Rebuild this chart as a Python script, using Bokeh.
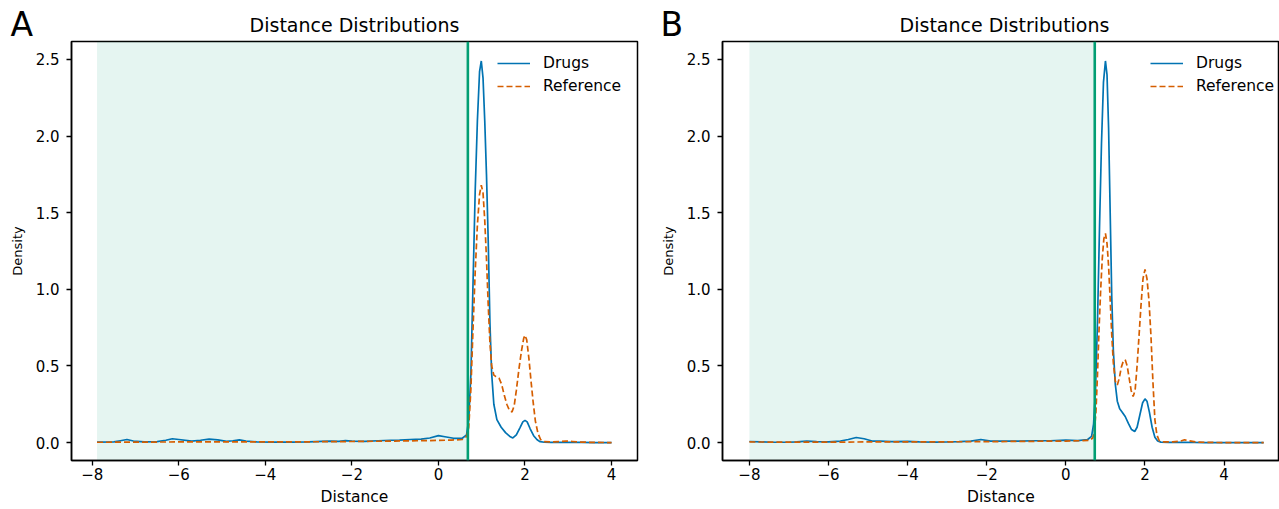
from bokeh.plotting import figure
from bokeh.models import (Range1d, FixedTicker, CustomJSTickFormatter, BoxAnnotation,
                          Span, Legend, LegendItem, Label)
from bokeh.layouts import row, column
from bokeh.embed import file_html
from bokeh.resources import INLINE

# ---------------- data ----------------
# Panel A
drugs_a_x = [-7.89, -7.5, -7.35, -7.2, -7.05, -6.8, -6.5, -6.3, -6.15, -6.0, -5.7, -5.5, -5.3, -5.1,
             -4.9, -4.75, -4.6, -4.45, -4.2, -3.8, -3.4, -3.0, -2.7, -2.5, -2.3, -2.15, -2.0, -1.7,
             -1.4, -1.1, -0.9, -0.65, -0.4, -0.2, 0.0, 0.15, 0.35, 0.55, 0.65, 0.70, 0.75, 0.80,
             0.85, 0.90, 0.95, 0.99, 1.03, 1.07, 1.11, 1.15, 1.19, 1.23, 1.28, 1.35, 1.45, 1.55,
             1.65, 1.72, 1.80, 1.88, 1.95, 2.0, 2.05, 2.12, 2.2, 2.28, 2.35, 2.45, 2.6, 2.8, 3.0,
             3.3, 3.6, 4.0]
drugs_a_y = [0.003, 0.004, 0.012, 0.02, 0.01, 0.005, 0.006, 0.015, 0.025, 0.02, 0.01, 0.015, 0.022,
             0.018, 0.008, 0.012, 0.018, 0.01, 0.005, 0.003, 0.003, 0.005, 0.008, 0.01, 0.008,
             0.013, 0.01, 0.008, 0.012, 0.015, 0.016, 0.02, 0.022, 0.03, 0.045, 0.038, 0.028,
             0.028, 0.05, 0.15, 0.45, 1.05, 1.65, 2.1, 2.42, 2.49, 2.38, 2.1, 1.75, 1.32, 0.78,
             0.45, 0.25, 0.15, 0.1, 0.065, 0.04, 0.03, 0.05, 0.095, 0.135, 0.145, 0.135, 0.09,
             0.045, 0.018, 0.006, 0.002, 0.001, 0.001, 0.002, 0.001, 0.0, 0.0]

ref_a_x = [-7.89, -7.0, -6.0, -5.0, -4.0, -3.0, -2.0, -1.0, -0.5, 0.0, 0.3, 0.55, 0.65, 0.70,
           0.75, 0.80, 0.85, 0.90, 0.95, 0.99, 1.03, 1.07, 1.11, 1.15, 1.19, 1.23, 1.28, 1.33,
           1.40, 1.46, 1.52, 1.58, 1.64, 1.70, 1.75, 1.80, 1.86, 1.92, 1.97, 2.0, 2.04, 2.09,
           2.14, 2.19, 2.24, 2.30, 2.36, 2.45, 2.6, 2.8, 2.95, 3.1, 3.3, 3.6, 4.0]
ref_a_y = [0.002, 0.003, 0.004, 0.004, 0.004, 0.005, 0.007, 0.01, 0.012, 0.014, 0.016, 0.02,
           0.04, 0.1, 0.35, 0.75, 1.12, 1.42, 1.62, 1.68, 1.63, 1.45, 1.2, 0.9, 0.65, 0.5,
           0.44, 0.43, 0.42, 0.38, 0.31, 0.25, 0.21, 0.2, 0.24, 0.34, 0.48, 0.6, 0.68, 0.70,
           0.67, 0.55, 0.4, 0.26, 0.14, 0.06, 0.02, 0.006, 0.004, 0.006, 0.01, 0.007, 0.003,
           0.001, 0.0]

# Panel B
drugs_b_x = [-8.0, -7.7, -7.4, -7.0, -6.8, -6.55, -6.3, -6.0, -5.7, -5.5, -5.3, -5.1, -4.9, -4.7,
             -4.4, -4.0, -3.7, -3.3, -3.0, -2.7, -2.4, -2.15, -1.9, -1.6, -1.2, -0.8, -0.4, 0.0,
             0.3, 0.55, 0.65, 0.70, 0.75, 0.80, 0.85, 0.90, 0.95, 1.00, 1.04, 1.08, 1.12, 1.16,
             1.20, 1.25, 1.30, 1.36, 1.42, 1.50, 1.58, 1.66, 1.74, 1.80, 1.87, 1.94, 2.0, 2.05,
             2.11, 2.18, 2.25, 2.32, 2.4, 2.6, 3.0, 3.5, 4.0, 4.5, 5.0]
drugs_b_y = [0.007, 0.004, 0.002, 0.002, 0.005, 0.009, 0.006, 0.005, 0.01, 0.02, 0.033, 0.025,
             0.01, 0.01, 0.006, 0.008, 0.004, 0.003, 0.004, 0.006, 0.01, 0.02, 0.01, 0.009, 0.01,
             0.012, 0.012, 0.016, 0.013, 0.02, 0.04, 0.12, 0.35, 0.8, 1.4, 1.95, 2.35, 2.49, 2.4,
             2.05, 1.5, 0.95, 0.6, 0.38, 0.27, 0.22, 0.2, 0.17, 0.125, 0.085, 0.072, 0.1, 0.18,
             0.26, 0.285, 0.27, 0.2, 0.1, 0.035, 0.01, 0.003, 0.001, 0.002, 0.0, 0.0, 0.0, 0.0]

ref_b_x = [-8.0, -7.0, -6.0, -5.0, -4.0, -3.0, -2.0, -1.0, 0.0, 0.4, 0.6, 0.68, 0.72, 0.76, 0.80,
           0.84, 0.88, 0.92, 0.96, 1.00, 1.04, 1.08, 1.12, 1.16, 1.20, 1.25, 1.30, 1.35, 1.40,
           1.45, 1.50, 1.55, 1.60, 1.65, 1.70, 1.75, 1.80, 1.85, 1.90, 1.95, 2.0, 2.05, 2.10,
           2.15, 2.20, 2.25, 2.30, 2.36, 2.45, 2.7, 2.9, 3.0, 3.1, 3.3, 3.6, 4.0, 4.5, 5.0]
ref_b_y = [0.004, 0.003, 0.003, 0.004, 0.004, 0.005, 0.006, 0.008, 0.01, 0.012, 0.015, 0.03,
           0.07, 0.2, 0.45, 0.75, 1.0, 1.2, 1.33, 1.365, 1.3, 1.15, 0.93, 0.7, 0.52, 0.4, 0.375,
           0.42, 0.49, 0.53, 0.54, 0.5, 0.42, 0.34, 0.3, 0.34, 0.5, 0.7, 0.9, 1.07, 1.13, 1.07,
           0.93, 0.7, 0.4, 0.15, 0.05, 0.012, 0.004, 0.004, 0.01, 0.018, 0.012, 0.004, 0.001,
           0.0, 0.0, 0.0]

# shaded region / threshold
shade_start_a, threshold_a = -7.89, 0.68
shade_start_b, threshold_b = -8.0, 0.73

x_ticks = [-8, -6, -4, -2, 0, 2, 4]
y_ticks = [0.0, 0.5, 1.0, 1.5, 2.0, 2.5]
series_labels = ["Drugs", "Reference"]
panel_title = "Distance Distributions"
panel_letters = ["A", "B"]

# ---------------- styling ----------------
FONT = "DejaVu Sans"
BLUE = "#0173b2"
ORANGE = "#d55e00"
GREEN = "#029e73"
STRIP_H = 40          # header strip holding the panel letter and the title
MAIN_H = 468          # main plot canvas
TOP = 1
BOTTOM = 48
FRAME_H = MAIN_H - TOP - BOTTOM   # 419
LEG_H = 53


def make_header(letter, width, title_center):
    s = figure(width=width, height=STRIP_H, x_range=Range1d(0, width),
               y_range=Range1d(0, STRIP_H), output_backend="svg", toolbar_location=None,
               x_axis_location=None, y_axis_location=None,
               min_border=0, min_border_left=0, min_border_right=0,
               min_border_top=0, min_border_bottom=0)
    s.outline_line_color = None
    s.grid.visible = False
    s.background_fill_color = "white"
    s.border_fill_color = "white"
    s.add_layout(Label(x=10, y=16, text=letter, text_font=FONT,
                       text_font_size="33px", text_color="black",
                       text_baseline="alphabetic", text_align="left"))
    s.add_layout(Label(x=title_center, y=16, text=panel_title, text_font=FONT,
                       text_font_size="19px", text_color="black",
                       text_baseline="alphabetic", text_align="center"))
    return s


def make_panel(dx, dy, rx, ry, shade_start, threshold, xr,
               width, border_left, border_right, legend_x):
    p = figure(width=width, height=MAIN_H, x_range=Range1d(*xr),
               y_range=Range1d(-0.117, 2.617),
               output_backend="svg", toolbar_location=None,
               min_border_left=border_left, min_border_right=border_right,
               min_border_top=TOP, min_border_bottom=BOTTOM)
    p.background_fill_color = "white"
    p.border_fill_color = "white"
    p.outline_line_color = "black"
    p.outline_line_width = 1.5
    p.grid.visible = False

    for ax in (p.xaxis[0], p.yaxis[0]):
        ax.axis_line_color = "black"
        ax.axis_line_width = 1.5
        ax.major_tick_line_color = "black"
        ax.major_tick_line_width = 1.3
        ax.major_tick_out = 5
        ax.major_tick_in = 0
        ax.minor_tick_line_color = None
        ax.major_label_text_font = FONT
        ax.major_label_text_font_size = "15px"
        ax.major_label_text_color = "black"
        ax.axis_label_text_font = FONT
        ax.axis_label_text_font_style = "normal"
        ax.axis_label_text_color = "black"

    p.xaxis.ticker = FixedTicker(ticks=x_ticks)
    p.yaxis.ticker = FixedTicker(ticks=y_ticks)
    p.xaxis.formatter = CustomJSTickFormatter(
        code="return (tick < 0 ? '\u2212' : '') + Math.abs(tick).toFixed(0);")
    p.yaxis.formatter = CustomJSTickFormatter(code="return tick.toFixed(1);")
    p.xaxis.major_label_standoff = 2
    p.yaxis.major_label_standoff = 7
    p.xaxis.axis_label = "Distance"
    p.xaxis.axis_label_text_font_size = "15.5px"
    p.xaxis.axis_label_standoff = 5
    p.yaxis.axis_label = "Density"
    p.yaxis.axis_label_text_font_size = "13px"
    p.yaxis.axis_label_standoff = 8

    p.add_layout(BoxAnnotation(left=shade_start, right=threshold, fill_color=GREEN,
                               fill_alpha=0.1, line_color=None, level="underlay"))
    r1 = p.line(dx, dy, line_color=BLUE, line_width=1.7)
    r2 = p.line(rx, ry, line_color=ORANGE, line_width=1.7, line_dash="6 3")
    p.add_layout(Span(location=threshold, dimension="height", line_color=GREEN,
                      line_width=2.6))

    legend = Legend(items=[LegendItem(label=series_labels[0], renderers=[r1]),
                           LegendItem(label=series_labels[1], renderers=[r2])],
                    location=(legend_x, FRAME_H - 2 - LEG_H), border_line_color=None,
                    background_fill_alpha=0.0, label_text_font=FONT,
                    label_text_font_size="15.5px", label_text_color="black",
                    glyph_width=33, glyph_height=20, label_height=20,
                    label_standoff=13, spacing=3, padding=5, margin=0)
    p.add_layout(legend)
    return p


WA, WB = 650, 629
ha = make_header(panel_letters[0], WA, 354)
hb = make_header(panel_letters[1], WB, 354)
pa = make_panel(drugs_a_x, drugs_a_y, ref_a_x, ref_a_y,
                shade_start_a, threshold_a, (-8.48, 4.60),
                width=WA, border_left=71, border_right=13, legend_x=426)
pb = make_panel(drugs_b_x, drugs_b_y, ref_b_x, ref_b_y,
                shade_start_b, threshold_b, (-8.68, 5.40),
                width=WB, border_left=72, border_right=0, legend_x=428)

layout = column(row(ha, hb), row(pa, pb))
open("out.html", "w").write(file_html(layout, INLINE))
